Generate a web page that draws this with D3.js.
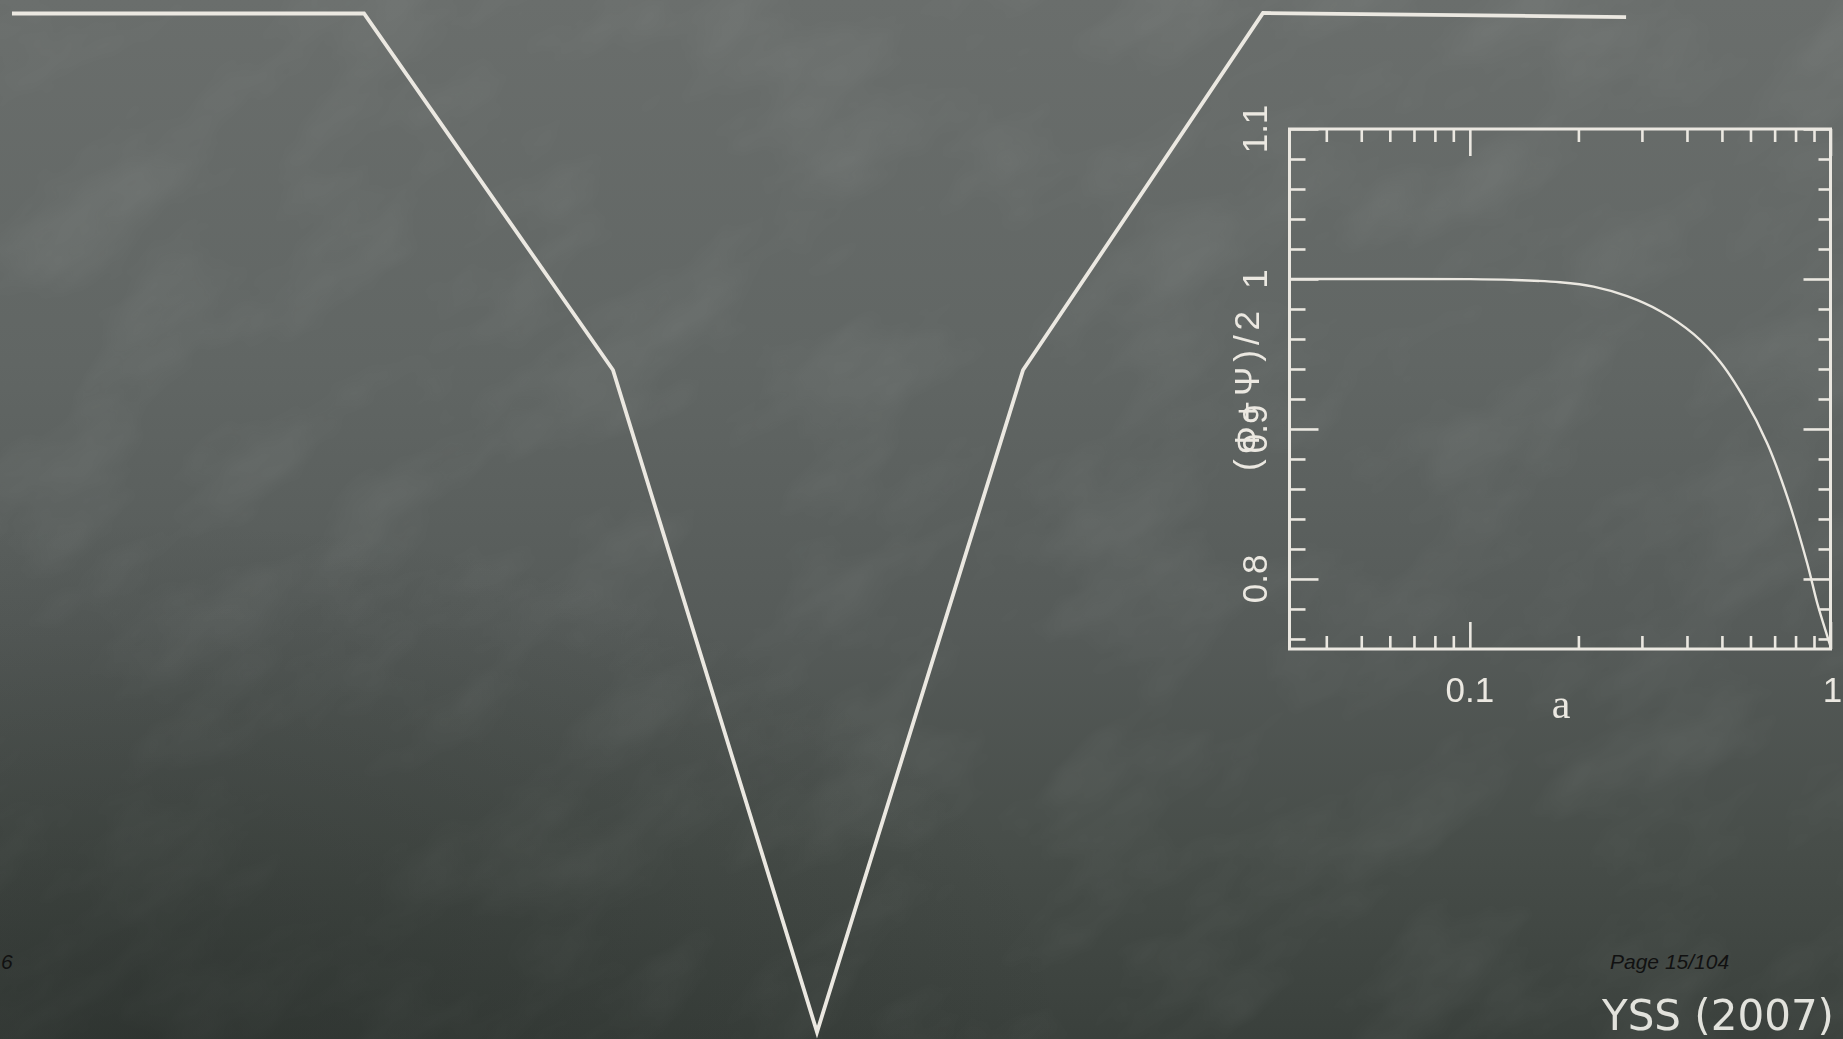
<!DOCTYPE html>
<html>
<head>
<meta charset="utf-8">
<script src="https://cdn.jsdelivr.net/npm/d3@7"></script>
<style>
  html, body { margin: 0; padding: 0; background: #545957; overflow: hidden; }
  svg { display: block; }
</style>
</head>
<body>
<svg id="board" width="1843" height="1039"></svg>
<script>
// ---- data -------------------------------------------------------------
// Large chalk V drawn across the board (fractions of the board width / height)
const vShapeX = [0.0065, 0.1975, 0.3326, 0.4433, 0.5551, 0.6853, 0.8823];
const vShapeY = [0.0130, 0.0130, 0.3561, 0.9933, 0.3561, 0.0125, 0.0164];

// Inset: (Φ+Ψ)/2 against scale factor a
const scaleFactorA = [0.0316, 0.06, 0.1, 0.13, 0.178, 0.2204, 0.2729, 0.3375, 0.4175,
                      0.4953, 0.5745, 0.6674, 0.7585, 0.8617, 0.9186, 0.9792, 1.0];
const potentialRatio = [1.0, 1.0, 0.9999, 0.9994, 0.9978, 0.9949, 0.9885, 0.9785, 0.9632,
                        0.9445, 0.9210, 0.8905, 0.8549, 0.8105, 0.7840, 0.7620, 0.755];

const xMajorTicks = [0.1, 1];
const xMinorTicks = [0.04, 0.05, 0.06, 0.07, 0.08, 0.09, 0.2, 0.3, 0.4, 0.5, 0.6, 0.7, 0.8, 0.9];
const xTickLabels = ["0.1", "1"];
const yMajorTicks = [0.8, 0.9, 1.0, 1.1];
const yMinorTicks = [0.76, 0.78, 0.82, 0.84, 0.86, 0.88, 0.92, 0.94, 0.96, 0.98, 1.02, 1.04, 1.06, 1.08];
const yTickLabels = ["0.8", "0.9", "1", "1.1"];
const xTitle = "a";
const yTitle = "(Φ+Ψ)/2";
const pageLabel = "Page 15/104";
const cornerLabel = "6";
const citation = "YSS (2007)";

// ---- board --------------------------------------------------------------
const W = 1843, H = 1039;
const chalk = "#ebe8e1";
const svg = d3.select("#board");
const defs = svg.append("defs");

const bg = defs.append("linearGradient").attr("id", "bg")
  .attr("x1", 0).attr("y1", 0).attr("x2", 0).attr("y2", 1);
[[0, "#6a6e6c"], [0.35, "#616664"], [0.6, "#565b59"], [0.82, "#474d49"], [1, "#3a403c"]]
  .forEach(([o, c]) => bg.append("stop").attr("offset", o).attr("stop-color", c));

const shade = defs.append("radialGradient").attr("id", "shade")
  .attr("cx", 0.08).attr("cy", 1.0).attr("r", 0.5);
shade.append("stop").attr("offset", 0).attr("stop-color", "#1e2320").attr("stop-opacity", 0.4);
shade.append("stop").attr("offset", 1).attr("stop-color", "#1e2320").attr("stop-opacity", 0);

// faint chalk-dust smudges
const dust = defs.append("filter").attr("id", "dust")
  .attr("x", 0).attr("y", 0).attr("width", 1).attr("height", 1);
dust.append("feTurbulence").attr("type", "fractalNoise")
  .attr("baseFrequency", "0.006 0.012").attr("numOctaves", 4).attr("seed", 11);
dust.append("feColorMatrix").attr("type", "matrix")
  .attr("values", "0 0 0 0 0.85  0 0 0 0 0.88  0 0 0 0 0.86  0 0 0 0.9 -0.4");

const glow = defs.append("filter").attr("id", "glow");
glow.append("feGaussianBlur").attr("stdDeviation", 0.7);

svg.append("rect").attr("width", W).attr("height", H).attr("fill", "url(#bg)");
// streaks run diagonally, like wiped chalk
svg.append("rect")
  .attr("x", -600).attr("y", -600).attr("width", W + 1200).attr("height", H + 1200)
  .attr("transform", `rotate(-35 ${W / 2} ${H / 2})`)
  .attr("filter", "url(#dust)").attr("opacity", 0.16);
svg.append("rect").attr("width", W).attr("height", H).attr("fill", "url(#shade)");

// ---- big V --------------------------------------------------------------
const bx = d3.scaleLinear().domain([0, 1]).range([0, W]);
const by = d3.scaleLinear().domain([0, 1]).range([0, H]);
svg.append("path")
  .datum(d3.range(vShapeX.length))
  .attr("d", d3.line().x(i => bx(vShapeX[i])).y(i => by(vShapeY[i])))
  .attr("fill", "none").attr("stroke", chalk).attr("stroke-width", 3.8)
  .attr("stroke-linejoin", "miter").attr("filter", "url(#glow)");

// ---- inset plot ---------------------------------------------------------
const box = { left: 1289.5, right: 1830.5, top: 129, bottom: 649 };
const x = d3.scaleLog().domain([Math.pow(10, -1.5), 1]).range([box.left, box.right]);
const y = d3.scaleLinear().domain([0.7533, 1.1]).range([box.bottom, box.top]);

const inset = svg.append("g").attr("filter", "url(#glow)");

inset.append("rect")
  .attr("x", box.left).attr("y", box.top)
  .attr("width", box.right - box.left).attr("height", box.bottom - box.top)
  .attr("fill", "none").attr("stroke", chalk).attr("stroke-width", 3);

function tickAxis(axis, tx, ty) {
  const g = inset.append("g").attr("transform", `translate(${tx},${ty})`).call(axis);
  g.select(".domain").remove();
  g.selectAll("text").remove();
  g.selectAll("line").attr("stroke", chalk).attr("stroke-width", 2.6);
}
// bottom and top ticks point into the frame
tickAxis(d3.axisBottom(x).tickValues(xMinorTicks).tickSize(-13), 0, box.bottom);
tickAxis(d3.axisBottom(x).tickValues(xMajorTicks).tickSize(-27), 0, box.bottom);
tickAxis(d3.axisTop(x).tickValues(xMinorTicks).tickSize(-13), 0, box.top);
tickAxis(d3.axisTop(x).tickValues(xMajorTicks).tickSize(-27), 0, box.top);
// left and right ticks
tickAxis(d3.axisLeft(y).tickValues(yMinorTicks).tickSize(-16), box.left, 0);
tickAxis(d3.axisLeft(y).tickValues(yMajorTicks).tickSize(-29), box.left, 0);
tickAxis(d3.axisRight(y).tickValues(yMinorTicks).tickSize(-12), box.right, 0);
tickAxis(d3.axisRight(y).tickValues(yMajorTicks).tickSize(-27), box.right, 0);

// curve
inset.append("path")
  .datum(d3.range(scaleFactorA.length))
  .attr("d", d3.line()
    .x(i => x(scaleFactorA[i]))
    .y(i => y(potentialRatio[i]))
    .curve(d3.curveCatmullRom.alpha(0.5)))
  .attr("fill", "none").attr("stroke", chalk).attr("stroke-width", 2.4);

// tick labels
const labelFont = "'Liberation Sans', Arial, sans-serif";
inset.selectAll(".xl").data(xMajorTicks).join("text")
  .attr("x", (d, i) => x(d) + (i === xMajorTicks.length - 1 ? 2 : 0))
  .attr("y", 702)
  .attr("text-anchor", "middle")
  .attr("font-family", labelFont).attr("font-size", 35)
  .attr("fill", chalk)
  .text((d, i) => xTickLabels[i]);

inset.selectAll(".yl").data(yMajorTicks).join("text")
  .attr("transform", d => `translate(1267,${y(d)}) rotate(-90)`)
  .attr("text-anchor", "middle")
  .attr("font-family", labelFont).attr("font-size", 35)
  .attr("fill", chalk)
  .text((d, i) => yTickLabels[i]);

// axis titles
inset.append("text")
  .attr("x", 1561).attr("y", 718)
  .attr("text-anchor", "middle")
  .attr("font-family", "'Liberation Serif', serif").attr("font-size", 42)
  .attr("fill", chalk).text(xTitle);

inset.append("text")
  .attr("transform", `translate(1259,${y(0.927)}) rotate(-90)`)
  .attr("text-anchor", "middle")
  .attr("font-family", labelFont).attr("font-size", 35)
  .attr("letter-spacing", 5)
  .attr("fill", chalk).text(yTitle);

// ---- slide annotations --------------------------------------------------
svg.append("text")
  .attr("x", 1834).attr("y", 1030)
  .attr("text-anchor", "end")
  .attr("font-family", "'DejaVu Sans', Verdana, sans-serif").attr("font-size", 42)
  .attr("fill", "#e2e2dc").attr("filter", "url(#glow)")
  .text(citation);

svg.append("text")
  .attr("x", 1610).attr("y", 969)
  .attr("font-family", labelFont).attr("font-style", "italic").attr("font-size", 21)
  .attr("fill", "#111").text(pageLabel);

svg.append("text")
  .attr("x", 1).attr("y", 969)
  .attr("font-family", labelFont).attr("font-style", "italic").attr("font-size", 21)
  .attr("fill", "#111").text(cornerLabel);
</script>
</body>
</html>
